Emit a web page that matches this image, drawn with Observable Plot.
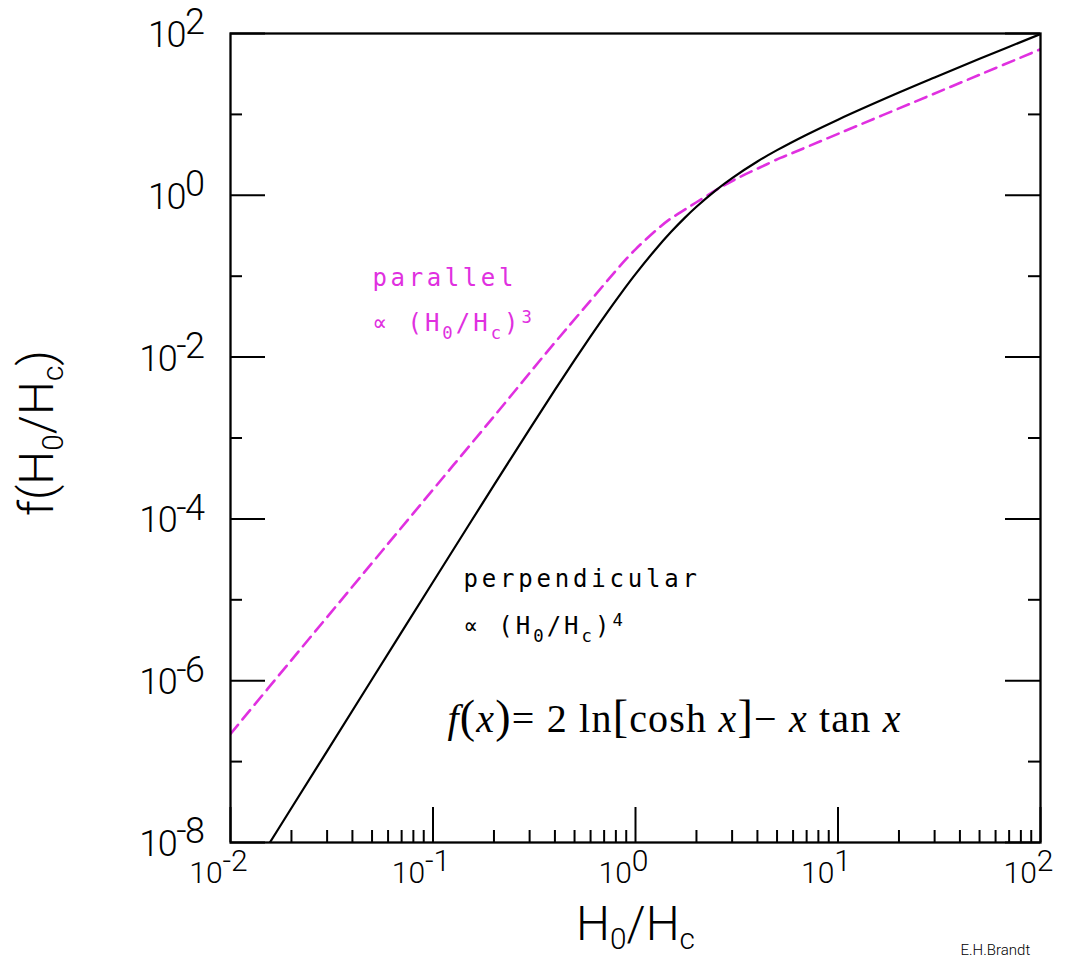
<!DOCTYPE html>
<html>
<head>
<meta charset="utf-8">
<script src="https://cdn.jsdelivr.net/npm/d3@7"></script>
<script src="https://cdn.jsdelivr.net/npm/@observablehq/plot@0.6"></script>
<style>
  html, body { margin: 0; padding: 0; background: #fff; }
  #chart svg { display: block; }
</style>
</head>
<body>
<div id="chart"></div>
<script>
// ---- data ----
const perpX = [0.01, 0.015, 0.02, 0.03, 0.05, 0.1, 0.15, 0.2, 0.3, 0.4, 0.5, 0.6, 0.7, 0.85, 1, 1.25, 1.5, 1.75, 2, 2.5, 3, 4, 5, 7, 10, 20, 30, 50, 100];
const perpY = [1.667e-9, 8.44e-9, 2.667e-8, 1.35e-7, 1.042e-6, 1.658e-5, 8.34e-5, 2.61e-4, 1.288e-3, 3.926e-3, 9.171e-3, 1.804e-2, 3.148e-2, 6.187e-2, 0.1060, 0.2111, 0.3532, 0.5258, 0.7220, 1.1606, 1.6335, 2.6171, 3.6143, 5.6137, 8.6137, 18.614, 28.614, 48.614, 98.614];

const parX = [0.01, 0.02, 0.05, 0.1, 0.2, 0.38, 0.6, 0.8, 0.91, 1.0, 1.1, 1.28, 1.45, 1.667, 2.0, 2.63, 3.3, 4.14, 5.2, 5.82, 10, 23.6, 50, 100];
const parY = [2.2e-7, 1.8e-6, 2.85e-5, 2.3e-4, 1.85e-3, 0.0130, 0.050, 0.117, 0.168, 0.215, 0.27, 0.38, 0.49, 0.614, 0.82, 1.25, 1.70, 2.22, 2.90, 3.25, 5.75, 14.1, 30.9, 63.8];

const xMajor = [0.01, 0.1, 1, 10, 100];
const xMinor = [0.02,0.03,0.04,0.05,0.06,0.07,0.08,0.09, 0.2,0.3,0.4,0.5,0.6,0.7,0.8,0.9, 2,3,4,5,6,7,8,9, 20,30,40,50,60,70,80,90];
const yMajor = [1e-8, 1e-6, 1e-4, 1e-2, 1, 100];
const yMinor = [1e-7, 1e-5, 1e-3, 1e-1, 10];
const xTickText = ["10^{-2}", "10^{-1}", "10^{0}", "10^{1}", "10^{2}"];
const yTickText = ["10^{-8}", "10^{-6}", "10^{-4}", "10^{-2}", "10^{0}", "10^{2}"];

const xTitle = "H_{0}/H_{c}";
const yTitle = "f(H_{0}/H_{c})";
const parText = ["parallel", "\u221D (H_{0}/H_{c})^{3}"];
const perpText = ["perpendicular", "\u221D (H_{0}/H_{c})^{4}"];
const formulaText = "\\i{f}\\b{(}\\i{x}\\b{)}= 2 ln\\b{[}cosh \\i{x}\\b{]}\u2212 \\i{x} tan \\i{x}";
const signText = "E.H.Brandt";

// annotation anchors (data units)
const parAnchor = {x: 0.0503, y1: 0.0767, y2: 0.0213};
const perpAnchor = {x: 0.1414, y1: 1.459e-5, y2: 3.83e-6};
const formulaAnchor = {x: 0.1179, y: 2.29e-7};

// ---- build tables ----
const perp = perpX.map((x, i) => ({x, y: perpY[i]}));
const par = parX.map((x, i) => ({x, y: parY[i]}));

const W = 1065, H = 957, mL = 230, mR = 25, mT = 33, mB = 115;
const iw = W - mL - mR, ih = H - mT - mB;
const MAG = "#e030e0";
const SANS = "Roboto, 'DejaVu Sans', sans-serif";
const MONO = "'DejaVu Sans Mono', 'Liberation Mono', monospace";
const SERIF = "'Liberation Serif', 'Times New Roman', serif";

const plot = Plot.plot({
  width: W, height: H,
  marginLeft: mL, marginRight: mR, marginTop: mT, marginBottom: mB,
  x: {type: "log", domain: [0.01, 100]},
  y: {type: "log", domain: [1e-8, 100]},
  style: {background: "white", color: "black", fontFamily: SANS},
  marks: [
    // inward ticks
    Plot.tickX(xMajor, {x: d => d, insetTop: ih - 35, stroke: "black", strokeWidth: 2}),
    Plot.tickX(xMinor, {x: d => d, insetTop: ih - 12, stroke: "black", strokeWidth: 2}),
    Plot.tickY(yMajor, {y: d => d, insetRight: iw - 35, stroke: "black", strokeWidth: 2}),
    Plot.tickY(yMajor, {y: d => d, insetLeft: iw - 35, stroke: "black", strokeWidth: 2}),
    Plot.tickY(yMinor, {y: d => d, insetRight: iw - 12, stroke: "black", strokeWidth: 2}),
    Plot.tickY(yMinor, {y: d => d, insetLeft: iw - 12, stroke: "black", strokeWidth: 2}),
    // curves
    Plot.line(par, {x: "x", y: "y", stroke: MAG, strokeWidth: 2.6, strokeDasharray: "12,7", curve: "catmull-rom", clip: true}),
    Plot.line(perp, {x: "x", y: "y", stroke: "black", strokeWidth: 2.2, curve: "catmull-rom", clip: true}),
    Plot.frame({stroke: "black", strokeWidth: 2.3}),
    // axes (labels only)
    Plot.axisX(xMajor, {anchor: "bottom", tickSize: 0, tickPadding: 19, fontSize: 30, dx: -12,
      tickFormat: d => xTickText[xMajor.indexOf(d)], label: null}),
    Plot.axisY(yMajor, {anchor: "left", tickSize: 0, tickPadding: 27, fontSize: 36, dy: 2,
      tickFormat: d => yTickText[yMajor.indexOf(d)], label: null}),
    // axis titles
    Plot.text([xTitle], {text: d => d, frameAnchor: "bottom", dy: 97, lineAnchor: "bottom", textAnchor: "middle",
      fontSize: 48, fontFamily: SANS}),
    Plot.text([yTitle], {text: d => d, frameAnchor: "left", dx: -178, dy: -5, rotate: -90, lineAnchor: "bottom", textAnchor: "middle",
      fontSize: 48, fontFamily: SANS}),
    // annotations
    Plot.text([parText[0]], {x: () => parAnchor.x, y: () => parAnchor.y1, text: d => d, textAnchor: "start", lineAnchor: "bottom",
      fill: MAG, fontSize: 24, fontFamily: MONO}),
    Plot.text([parText[1]], {x: () => parAnchor.x, y: () => parAnchor.y2, text: d => d, textAnchor: "start", lineAnchor: "bottom",
      fill: MAG, fontSize: 24, fontFamily: MONO}),
    Plot.text([perpText[0]], {x: () => perpAnchor.x, y: () => perpAnchor.y1, text: d => d, textAnchor: "start", lineAnchor: "bottom",
      fill: "black", fontSize: 24, fontFamily: MONO}),
    Plot.text([perpText[1]], {x: () => perpAnchor.x, y: () => perpAnchor.y2, text: d => d, textAnchor: "start", lineAnchor: "bottom",
      fill: "black", fontSize: 24, fontFamily: MONO}),
    Plot.text([formulaText], {x: () => formulaAnchor.x, y: () => formulaAnchor.y, text: d => d, textAnchor: "start", lineAnchor: "bottom",
      fill: "black", fontSize: 40, fontFamily: SERIF}),
    Plot.text([signText], {text: d => d, frameAnchor: "bottom-right", dx: -80, dy: 112, textAnchor: "start", lineAnchor: "bottom",
      fontSize: 15, fontFamily: SANS})
  ]
});

document.getElementById("chart").appendChild(plot);

// ---- rich text: sub/superscripts, italics, big delimiters ----
function rich(el, markup, o) {
  const t = d3.select(el);
  t.text(null);
  const re = /(_\{[^}]*\}|\^\{[^}]*\}|\\i\{[^}]*\}|\\b\{[^}]*\})/g;
  const parts = markup.split(re).filter(s => s !== "");
  let cur = 0;
  for (const p of parts) {
    let m, txt = p, fs = o.size, shift = 0, italic = false;
    if ((m = p.match(/^_\{(.*)\}$/))) { txt = m[1]; fs = o.size * o.subScale; shift = o.size * o.subShift; }
    else if ((m = p.match(/^\^\{(.*)\}$/))) { txt = m[1]; fs = o.size * o.supScale; shift = -o.size * o.supShift; }
    else if ((m = p.match(/^\\i\{(.*)\}$/))) { txt = m[1]; italic = true; }
    else if ((m = p.match(/^\\b\{(.*)\}$/))) { txt = m[1]; fs = o.size * o.bigScale; shift = o.size * (o.bigShift || 0); }
    const ts = t.append("tspan").attr("font-size", fs).text(txt);
    if (shift !== cur) { ts.attr("dy", shift - cur); cur = shift; }
    if (italic) ts.attr("font-style", "italic");
  }
  if (o.letterSpacing != null) t.attr("letter-spacing", o.letterSpacing);
  if (o.textLength) t.attr("textLength", o.textLength).attr("lengthAdjust", "spacing");
  if (o.weight) t.attr("font-weight", o.weight);
}

const svg = plot.tagName.toLowerCase() === "svg" ? plot : plot.querySelector("svg");
const groupSpecs = [
  ["x-axis tick label", {size: 30, supScale: 1, supShift: 0.4, weight: 300}],
  ["y-axis tick label", {size: 36, supScale: 1, supShift: 0.35, letterSpacing: -1.5, weight: 300}]
];
for (const [label, o] of groupSpecs) {
  svg.querySelectorAll(`g[aria-label="${label}"] text`).forEach(el => rich(el, el.textContent, o));
}
const textSpecs = new Map([
  [xTitle, {size: 48, subScale: 0.62, subShift: 0.2, weight: 300}],
  [yTitle, {size: 48, subScale: 0.62, subShift: 0.22, weight: 300}],
  [parText[0], {size: 24, letterSpacing: 3.6}],
  [perpText[0], {size: 24, letterSpacing: 3.8}],
  [parText[1], {size: 24, subScale: 0.72, subShift: 0.35, supScale: 0.72, supShift: 0.3, letterSpacing: 3}],
  [perpText[1], {size: 24, subScale: 0.72, subShift: 0.35, supScale: 0.72, supShift: 0.3, letterSpacing: 3}],
  [formulaText, {size: 40, bigScale: 1.15, bigShift: 0, textLength: 453}],
  [signText, {size: 15, weight: 300}]
]);
svg.querySelectorAll("text").forEach(el => {
  const o = textSpecs.get(el.textContent);
  if (o) rich(el, el.textContent, o);
});
</script>
</body>
</html>
